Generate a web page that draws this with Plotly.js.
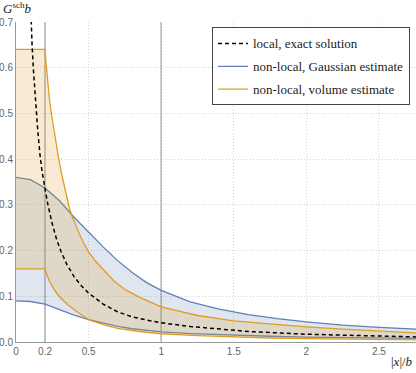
<!DOCTYPE html>
<html>
<head>
<meta charset="utf-8">
<script src="https://cdn.plot.ly/plotly-3.0.1.min.js"></script>
<style>
  html, body { margin: 0; padding: 0; background: #fff; }
  #myDiv { width: 416px; height: 373px; }
</style>
</head>
<body>
<div id="myDiv"></div>
<script>
// values
var gaussX    = [0, 0.1, 0.2, 0.3, 0.4, 0.5, 0.6, 0.7, 0.8, 0.9, 1.0, 1.2, 1.4, 1.6, 1.8, 2.0, 2.25, 2.5, 2.76];
var gaussHigh = [0.360, 0.355, 0.337, 0.309, 0.273, 0.240, 0.208, 0.178, 0.152, 0.130, 0.113, 0.088, 0.072, 0.060, 0.051, 0.044, 0.037, 0.032, 0.028];
var gaussLow  = [0.090, 0.0886, 0.083, 0.071, 0.059, 0.049, 0.041, 0.034, 0.029, 0.025, 0.022, 0.0185, 0.016, 0.0138, 0.012, 0.0105, 0.0095, 0.0085, 0.0078];

var volHighX = [0, 0.2, 0.205, 0.212, 0.22, 0.23, 0.245, 0.26, 0.277, 0.294, 0.31, 0.33, 0.35, 0.368, 0.386, 0.41, 0.44, 0.47, 0.5, 0.55, 0.6, 0.673, 0.75, 0.856, 1.0, 1.25, 1.5, 1.75, 2.0, 2.25, 2.5, 2.76];
var volHigh  = [0.640, 0.640, 0.618, 0.592, 0.563, 0.532, 0.496, 0.465, 0.432, 0.401, 0.374, 0.345, 0.316, 0.292, 0.275, 0.256, 0.234, 0.214, 0.197, 0.176, 0.159, 0.134, 0.115, 0.097, 0.077, 0.058, 0.046, 0.039, 0.033, 0.028, 0.024, 0.020];

var volLowX = [0, 0.2, 0.206, 0.212, 0.22, 0.23, 0.24, 0.25, 0.27, 0.3, 0.35, 0.42, 0.5, 0.6, 0.7, 0.85, 1.0, 1.25, 1.5, 1.75, 2.0, 2.25, 2.5, 2.76];
var volLow  = [0.160, 0.160, 0.153, 0.147, 0.140, 0.133, 0.127, 0.121, 0.111, 0.099, 0.083, 0.066, 0.049, 0.038, 0.030, 0.023, 0.018, 0.014, 0.011, 0.0088, 0.0072, 0.0062, 0.0055, 0.0048];

var localX = [0.097, 0.104, 0.11, 0.12, 0.13, 0.14, 0.15, 0.165, 0.18, 0.2, 0.22, 0.25, 0.28, 0.31, 0.35, 0.4, 0.45, 0.5, 0.6, 0.7, 0.8, 0.9, 1.0, 1.2, 1.4, 1.6, 1.8, 2.0, 2.25, 2.5, 2.76];
var localY = [0.780, 0.700, 0.655, 0.595, 0.545, 0.500, 0.462, 0.410, 0.372, 0.335, 0.300, 0.258, 0.224, 0.198, 0.170, 0.143, 0.123, 0.107, 0.083, 0.066, 0.055, 0.048, 0.042, 0.034, 0.028, 0.023, 0.020, 0.017, 0.015, 0.013, 0.011];

var xTicks = [0, 0.2, 0.5, 1, 1.5, 2, 2.5];
var xTickText = ['0', '0.2', '0.5', '1', '1.5', '2', '2.5'];
var yTicks = [0, 0.1, 0.2, 0.3, 0.4, 0.5, 0.6, 0.7];
var yTickText = ['0.0', '0.1', '0.2', '0.3', '0.4', '0.5', '0.6', '0.7'];
var markedX = [0.2, 1];

var legendNames = ['local, exact solution', 'non-local, Gaussian estimate', 'non-local, volume estimate'];

var blue = '#5E81B5';
var orange = '#E19C24';
var serif = '"Liberation Serif", "Times New Roman", "DejaVu Serif", serif';

var data = [
  {x: gaussX, y: gaussLow, mode: 'lines', line: {color: blue, width: 1.3}, showlegend: false, hoverinfo: 'skip'},
  {x: gaussX, y: gaussHigh, mode: 'lines', fill: 'tonexty', fillcolor: 'rgba(94,129,181,0.2)',
   line: {color: blue, width: 1.3}, showlegend: false, hoverinfo: 'skip'},
  {x: volLowX, y: volLow, mode: 'lines', line: {color: orange, width: 1.3}, showlegend: false, hoverinfo: 'skip'},
  {x: volHighX, y: volHigh, mode: 'lines', fill: 'tonexty', fillcolor: 'rgba(225,156,36,0.2)',
   line: {color: orange, width: 1.3}, showlegend: false, hoverinfo: 'skip'},
  {x: localX, y: localY, mode: 'lines', line: {color: '#000', width: 1.5, dash: '4px,3px'}, showlegend: false, hoverinfo: 'skip'},
  // legend-only entries
  {x: [null], y: [null], mode: 'lines', name: legendNames[0], legendgroup: 'a', line: {color: '#000', width: 1.5, dash: '4px,3px'}},
  {x: [null], y: [null], mode: 'lines', name: legendNames[1], legendgroup: 'b', line: {color: blue, width: 1.3}},
  {x: [null], y: [null], mode: 'lines', name: legendNames[2], legendgroup: 'c', line: {color: orange, width: 1.3}}
];

var shapes = markedX.map(function (v) {
  return {type: 'line', xref: 'x', yref: 'paper', x0: v, x1: v, y0: 0, y1: 1, layer: 'below',
          line: {color: '#aaa', width: 1.5}};
});

var layout = {
  width: 416,
  height: 373,
  margin: {l: 16, r: 0, t: 22, b: 31},
  paper_bgcolor: '#fff',
  plot_bgcolor: '#fff',
  font: {family: '"Liberation Sans", Arial, sans-serif', size: 10, color: '#666'},
  xaxis: {
    range: [0, 2.755],
    tickvals: xTicks, ticktext: xTickText,
    showgrid: true, gridcolor: '#d4d4d4', griddash: '1px,2px', gridwidth: 1,
    showline: true, linecolor: '#999', linewidth: 1,
    zeroline: false, ticks: '', fixedrange: true
  },
  yaxis: {
    range: [0, 0.7],
    tickvals: yTicks, ticktext: yTickText,
    showgrid: true, gridcolor: '#d4d4d4', griddash: '1px,2px', gridwidth: 1,
    showline: true, linecolor: '#999', linewidth: 1,
    zeroline: false, ticks: '', fixedrange: true,
    ticklabelstandoff: 0
  },
  shapes: shapes,
  showlegend: true,
  legend: {
    x: 0.49, y: 0.983, xanchor: 'left', yanchor: 'top',
    bgcolor: '#fff', bordercolor: '#444', borderwidth: 1,
    font: {family: serif, size: 13, color: '#222'},
    tracegroupgap: 3
  },
  annotations: [
    {xref: 'paper', yref: 'paper', x: -0.037, y: 1.074, xanchor: 'left', yanchor: 'top', showarrow: false,
     text: '<i>G</i><sup>sch</sup><i>b</i>', font: {family: serif, size: 13, color: '#222'}},
    {xref: 'paper', yref: 'paper', x: 0.997, y: -0.09, xanchor: 'right', yanchor: 'bottom', showarrow: false,
     text: '|<i>x</i>|/<i>b</i>', font: {family: serif, size: 13, color: '#222'}}
  ]
};

Plotly.newPlot('myDiv', data, layout, {displayModeBar: false, staticPlot: true});
</script>
</body>
</html>
